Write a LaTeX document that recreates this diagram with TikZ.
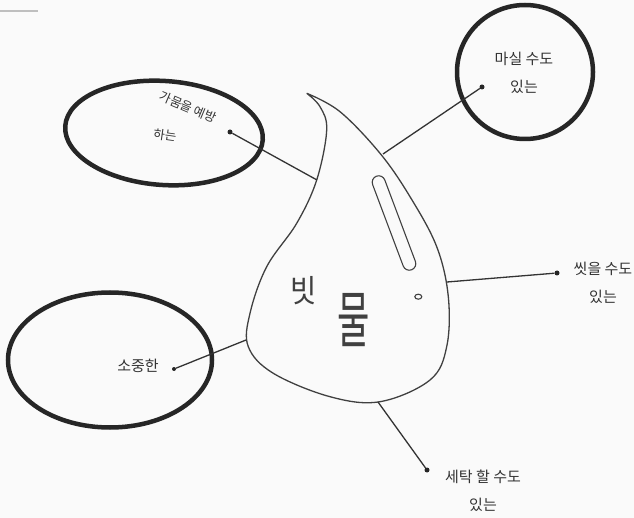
\documentclass[tikz,border=0pt]{standalone}
\usepackage{fontspec}
\newfontfamily\kr{Noto Sans CJK KR}
\usetikzlibrary{positioning, shapes.geometric}

\tikzset{
  bulle/.style={draw, ellipse, line width=4.5pt, black!85, inner sep=0pt},
  etiquette/.style={font=\kr\fontsize{15}{28}\selectfont, text=black!80, align=center, inner sep=0pt},
  point/.style={circle, fill=black!85, inner sep=0pt, minimum size=5pt},
  lien/.style={line width=1.3pt, black!80},
  trait/.style={line width=1.3pt, black!75},
}

\begin{document}
\begin{tikzpicture}[x=1pt, y=-1pt]
    \fill[black!2] (0,0) rectangle (634,518);
    \useasboundingbox (0,0) rectangle (634,518);
    % Trait de marge
    \draw[line width=2pt, black!25] (0,11) -- (38,11);

    % Goutte
    \draw[trait] plot[smooth, tension=0.6] coordinates {
        (306.7,93.3) (340,111.7) (380,153.3) (410,196.7) (436.7,246.7)
        (448.3,296.7) (446.7,346.7) (430,380) (380,401.7) (330,396.7)
        (273.3,373.3) (248.3,346.7) (250,313.3) (266.7,266.7) (296.7,223.3)
        (316.7,180) (326.7,130) (320,106.7) (306.7,93.3)};
    \node[draw, trait, line width=1.1pt, rectangle, rounded corners=6.5pt,
          minimum width=100pt, minimum height=13pt, rotate=-69.4] (reflet) at (394,223) {};
    \node[draw, trait, line width=1.1pt, ellipse, minimum width=7pt, minimum height=5pt,
          inner sep=0pt] (bulleair) at (418.3,296.7) {};

    \node[font=\kr\fontsize{30}{30}\selectfont, text=black!75, xscale=0.95, yscale=1.05] (bit) at (304,291) {빗};
    \node[font=\kr\fontsize{44}{44}\selectfont, text=black!75, xscale=0.8, yscale=1.4] (mul) at (354,320) {물};

    % Points d'attache sur la goutte
    \coordinate (g-hg) at (317,180);
    \coordinate (g-hd) at (383,154);
    \coordinate (g-d) at (447,282);
    \coordinate (g-b) at (378,402);
    \coordinate (g-g) at (246,340);

    % Bulles
    \node[bulle, minimum width=198pt, minimum height=104pt, rotate=-4] (secheresse) at (164,133) {};
    \node[bulle, minimum width=136pt, minimum height=134pt] (boire) at (525,72) {};
    \node[bulle, minimum width=204pt, minimum height=135pt] (precieux) at (110,360) {};

    % Etiquettes
    \node[etiquette, font=\kr\fontsize{12.5}{14}\selectfont, rotate=-23] (prevenir) at (188,107) {가뭄을 예방};
    \node[etiquette, font=\kr\fontsize{12.5}{14}\selectfont, rotate=-8] (prevenir2) at (165,135) {하는};
    \node[etiquette] (boirelbl) at (524,73) {마실 수도\\있는};
    \node[etiquette] (precieuxlbl) at (138,366) {소중한};
    \node[etiquette] (laver) at (603,283) {씻을 수도\\있는};
    \node[etiquette] (lessive) at (483,491) {세탁 할 수도\\있는};

    \node[point] (p1) at (230,132) {};
    \node[point] (p2) at (482,87) {};
    \node[point] (p3) at (557,273) {};
    \node[point] (p4) at (427,470) {};
    \node[point, minimum size=4pt] (p5) at (174,369) {};

    % Liens
    \draw[lien] (p1) -- (g-hg);
    \draw[lien] (p2) -- (g-hd);
    \draw[lien] (p3) -- (g-d);
    \draw[lien] (p4) -- (g-b);
    \draw[lien] (p5) -- (g-g);
\end{tikzpicture}
\end{document}
